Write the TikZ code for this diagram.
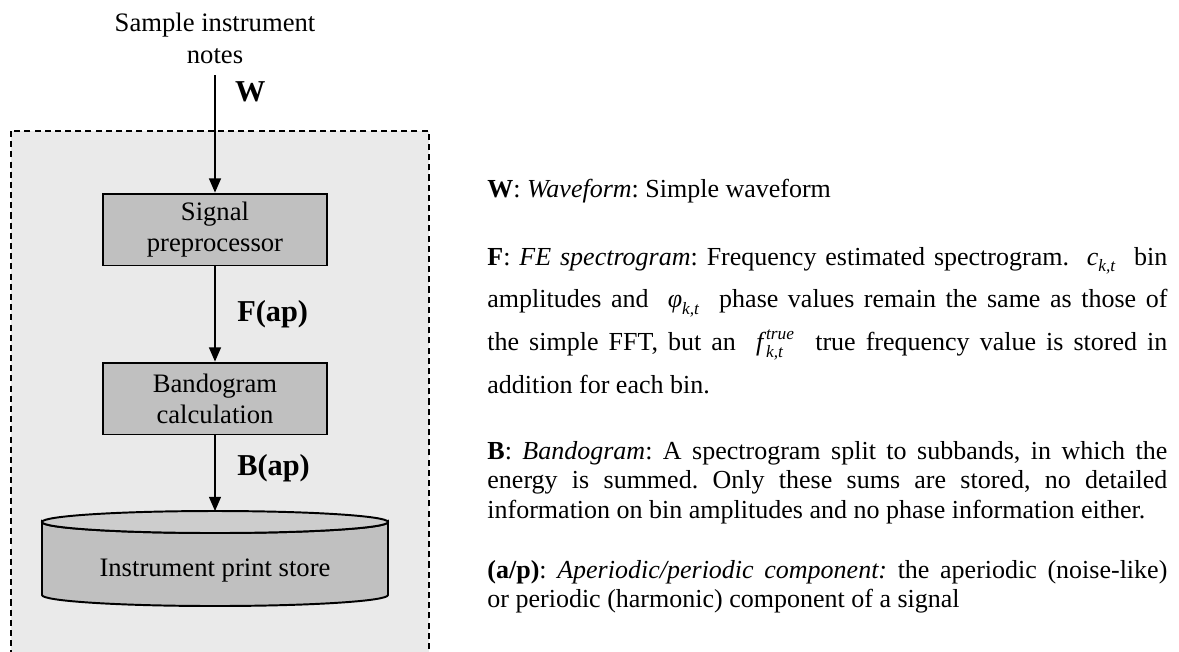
\documentclass[tikz,border=0pt]{standalone}
\usepackage{amsmath,amssymb}
\usepackage{fontspec}
\setmainfont{Liberation Serif}
\usetikzlibrary{arrows.meta,positioning}
\frenchspacing
\definecolor{framegray}{HTML}{EAEAEA}
\definecolor{boxgray}{HTML}{C0C0C0}
\definecolor{lidgray}{HTML}{CDCDCD}
\tikzset{every node/.append style={font=\fontsize{12.3}{14.2}\selectfont}}
\tikzset{
  procbox/.style={draw, line width=0.9pt, fill=boxgray, align=center,
    minimum width=103.4pt, minimum height=33.2pt, inner sep=0pt},
  flowarrow/.style={-{Triangle[length=6.5pt,width=5.5pt]}, line width=0.6pt},
  flowlabel/.style={font=\fontsize{14}{16}\selectfont\bfseries, inner sep=0pt},
  legend/.style={text width=313.8pt, align=justify, inner sep=0pt, anchor=base west,
    font=\fontsize{12}{13.7}\selectfont},
  dashframe/.style={fill=framegray, line width=0.6pt, dash pattern=on 2.8pt off 1.9pt}
}
\newcommand{\symb}[3]{$\textit{#1}^{\textit{#2}}_{\textit{#3}}$}

\begin{document}
\begin{tikzpicture}[x=0.4615pt,y=-0.4615pt]
    \useasboundingbox (0,0) rectangle (1179,651);
    \filldraw[dashframe] (11,131) rectangle (429,680);

    \node[align=center, font=\fontsize{12.3}{14.8}\selectfont] (src) at (215,38) {Sample instrument\\notes};
    \node[procbox] (sig) at (215,229.5) {Signal\\preprocessor};
    \node[procbox] (band) at (215,398.5) {Bandogram\\calculation};

    % the store drum
    \filldraw[fill=boxgray, line width=0.9pt] (42,522) -- (42,595)
        arc[start angle=180, end angle=0, x radius=173, y radius=11] -- (388,522)
        arc[start angle=0, end angle=180, x radius=173, y radius=11] -- cycle;
    \filldraw[fill=lidgray, line width=0.9pt] (215,522) ellipse[x radius=173, y radius=11];
    \coordinate (storetop) at (215,511);
    \node (store) at (215,570) {Instrument print store};

    \draw[flowarrow, shorten <=2pt] (src) -- (sig) node[flowlabel, pos=0.17, right=9pt] {W};
    \draw[flowarrow] (sig) -- (band) node[flowlabel, midway, right=10pt] {F(ap)};
    \draw[flowarrow] (band) -- (storetop) node[flowlabel, pos=0.44, right=10pt] {B(ap)};

    % legend on the right
    \node[legend] (wdef) at (487,197) {\textbf{W}: \textit{Waveform}: Simple waveform};
    \node[legend, font=\fontsize{12}{19.8}\selectfont] (fdef) at (487,265) {\textbf{F}: \textit{FE spectrogram}: Frequency estimated spectrogram. ~\symb{c}{}{k,t}~ bin\linebreak
        amplitudes and ~\symb{φ}{}{k,t}~ phase values remain the same as those of\linebreak
        the simple FFT, but an ~\symb{f}{\,true}{\,k,t}~ true frequency value is stored in\linebreak
        addition for each bin.};
    \node[legend] (bdef) at (487,459) {\textbf{B}: \textit{Bandogram}: A spectrogram split to subbands, in which the\linebreak
        energy is summed. Only these sums are stored, no detailed\linebreak
        information on bin amplitudes and no phase information either.};
    \node[legend] (apdef) at (487,578) {\textbf{(a/p)}: \textit{Aperiodic/periodic component:} the aperiodic (noise-like)\linebreak
        or periodic (harmonic) component of a signal};
\end{tikzpicture}
\end{document}
